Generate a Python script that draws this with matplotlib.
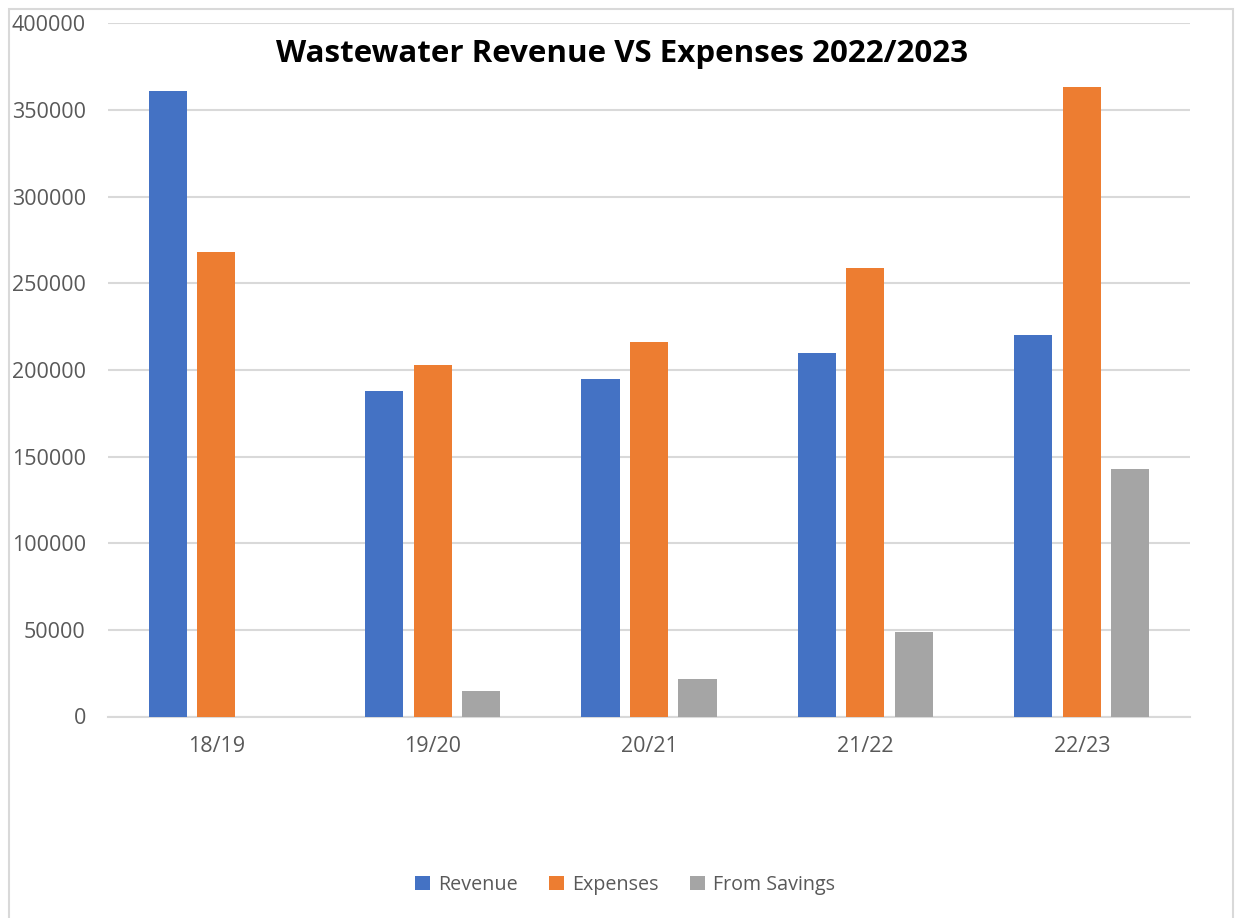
import numpy as np
import matplotlib.pyplot as plt
from matplotlib.patches import Rectangle

years = ['18/19', '19/20', '20/21', '21/22', '22/23']
revenue = [361000, 187600, 194500, 209500, 220000]
expenses = [268000, 202600, 215900, 258600, 363000]
savings = [0, 15000, 21400, 48500, 142600]

names = ['Revenue', 'Expenses', 'From Savings']
colors = ['#4472C4', '#ED7D31', '#A5A5A5']

plt.rcParams['font.family'] = ['Open Sans', 'DejaVu Sans']

fig = plt.figure(figsize=(12.38, 9.18), dpi=100)
# chart area border
fig.patches.append(Rectangle((9 / 1238, -0.01), 1224 / 1238, 1 - 9 / 918 + 0.01,
                             transform=fig.transFigure, fill=False,
                             edgecolor='#D9D9D9', lw=1.5))

ax = fig.add_axes([108 / 1238, 1 - 716.5 / 918, (1190 - 108) / 1238, (716.5 - 23.3) / 918])

x = np.arange(len(years))
w = 0.176
off = 0.224
for i, (vals, name, c) in enumerate(zip([revenue, expenses, savings], names, colors)):
    ax.bar(x + (i - 1) * off, vals, w, color=c, label=name, zorder=3)

ax.set_xlim(-0.5, len(years) - 0.5)
ax.set_ylim(0, 400000)
ax.set_yticks(np.arange(0, 400001, 50000))
ax.set_xticks(x)
ax.set_xticklabels(years)
ax.yaxis.grid(True, color='#D9D9D9', lw=1.5, zorder=0)
for s in ['top', 'right', 'left']:
    ax.spines[s].set_visible(False)
ax.spines['bottom'].set_color('#D9D9D9')
ax.spines['bottom'].set_linewidth(1.5)
ax.tick_params(length=0, labelsize=15.5, colors='#595959')
ax.tick_params(axis='y', pad=16)
ax.tick_params(axis='x', pad=14)

fig.text(622 / 1238, 1 - 54 / 918, 'Wastewater Revenue VS Expenses 2022/2023',
         ha='center', va='center', fontsize=22.5, fontweight='bold', color='black')

fig.legend(loc='center', bbox_to_anchor=(625 / 1238, 1 - 885 / 918), ncol=3,
           frameon=False, fontsize=14.2, labelcolor='#595959', handlelength=0.75,
           handleheight=0.75, handletextpad=0.4, columnspacing=1.6)

fig.savefig('out.png', dpi=100)
